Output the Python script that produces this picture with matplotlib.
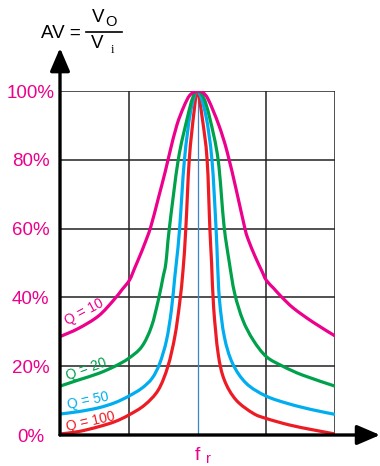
import matplotlib
matplotlib.use('Agg')
import matplotlib.pyplot as plt
from matplotlib.patches import ArrowStyle, PathPatch
from matplotlib.path import Path

plt.rcParams['font.family'] = ['Liberation Sans', 'DejaVu Sans']

# 곡선 데이터 (x: 공진 주파수 기준 격자 단위, y: %)
q10_x = [-2.0, -1.73, -1.44, -1.22, -1.10, -0.99, -0.91, -0.84, -0.77, -0.68, -0.57, -0.47, -0.40, -0.30, -0.20,
         -0.11, 0.0, 0.08, 0.16, 0.31, 0.43, 0.57, 0.69, 0.74, 0.84, 0.94, 1.0, 1.11, 1.23, 1.40, 1.68, 2.0]
q10_y = [28.6, 31, 34.6, 39.2, 42.2, 45, 48.7, 52, 55.5, 60.5, 68.8, 76.5, 82.4, 90.1, 95.4,
         98.8, 100, 99.5, 97.4, 90.1, 82.4, 70.7, 60, 56.7, 51.8, 47.5, 45, 42.6, 40, 36.8, 32.8, 28.8]

q20_x = [-2.0, -1.73, -1.44, -1.2, -1.0, -0.81, -0.67, -0.57, -0.50, -0.46, -0.41, -0.28, -0.15, -0.07, 0.0,
         0.09, 0.18, 0.30, 0.385, 0.46, 0.54, 0.66, 0.81, 1.0, 1.24, 1.53, 2.0]
q20_y = [14.2, 16, 17.9, 20, 22.3, 25.7, 31.5, 39.2, 46, 50, 60, 80, 92, 98, 100,
         98, 92, 80, 61, 50.5, 41.2, 33.4, 27.6, 22.8, 20, 17.4, 14.2]

q50_x = [-2.0, -1.73, -1.44, -1.2, -1.0, -0.81, -0.66, -0.55, -0.45, -0.38, -0.33, -0.30, -0.26, -0.19, -0.10, 0.0,
         0.12, 0.21, 0.27, 0.29, 0.32, 0.39, 0.51, 0.71, 1.0, 1.34, 1.68, 2.0]
q50_y = [6.1, 6.8, 7.9, 9.4, 11.3, 13.6, 16.5, 20.8, 27.6, 36.3, 46, 51.5, 60, 80, 94, 100,
         93, 80, 60, 50.5, 39.2, 28.6, 20.8, 15, 11.3, 9, 7.3, 6]

q100_x = [-2.0, -1.73, -1.44, -1.2, -1.0, -0.77, -0.57, -0.43, -0.33, -0.26, -0.21, -0.17, -0.12, -0.05, 0.0,
          0.07, 0.14, 0.18, 0.205, 0.235, 0.30, 0.39, 0.56, 0.81, 1.0, 1.34, 1.68, 2.0]
q100_y = [0.3, 1, 2.4, 3.9, 5.8, 8.7, 13.1, 20, 28.6, 38.3, 48, 60, 80, 94, 100,
          92, 80, 60, 50, 37, 23.7, 16, 10.2, 6.3, 4.8, 2.9, 1.5, 0.3]

y_ticks = [0, 20, 40, 60, 80, 100]
y_labels = ['0%', '20%', '40%', '60%', '80%', '100%']

pink = '#ec008c'
green = '#00a14b'
cyan = '#00aeef'
red = '#ed1c24'

W, H = 380, 466
fig = plt.figure(figsize=(W / 100, H / 100), dpi=100)
ax = fig.add_axes([60 / W, 1 - 435 / H, 275 / W, 344 / H])
ax.set_xlim(-2, 2)
ax.set_ylim(0, 100)
for s in ax.spines.values():
    s.set_visible(False)

# 격자
for yv in y_ticks[1:]:
    ax.axhline(yv, color='#222222', lw=1.1, zorder=1)
for xv in [-1, 1, 2]:
    ax.axvline(xv, color='#222222', lw=1.1, zorder=1)
ax.axvline(0, color='#3d85c6', lw=0.9, zorder=1)


# 읽은 점들을 부드러운 베지어 경로로 연결
def smooth_curve(xs, ys, color, z):
    pts = list(zip(xs, ys))
    verts = [pts[0]]
    codes = [Path.MOVETO]
    n = len(pts)
    for i in range(n - 1):
        p0 = pts[max(i - 1, 0)]
        p1 = pts[i]
        p2 = pts[i + 1]
        p3 = pts[min(i + 2, n - 1)]
        c1 = (p1[0] + (p2[0] - p0[0]) / 6, p1[1] + (p2[1] - p0[1]) / 6)
        c2 = (p2[0] - (p3[0] - p1[0]) / 6, p2[1] - (p3[1] - p1[1]) / 6)
        verts += [c1, c2, p2]
        codes += [Path.CURVE4] * 3
    patch = PathPatch(Path(verts, codes), fill=False, edgecolor=color, lw=2.3,
                      joinstyle='round', capstyle='butt', zorder=z)
    ax.add_patch(patch)


smooth_curve(q100_x, q100_y, red, 3)
smooth_curve(q50_x, q50_y, cyan, 4)
smooth_curve(q20_x, q20_y, green, 5)
smooth_curve(q10_x, q10_y, pink, 6)

# 축 화살표
head = ArrowStyle('-|>', head_length=0.7, head_width=0.3)
for tip in [(1.164, 0), (0, 1.125)]:
    ax.annotate('', xy=tip, xytext=(0, 0), xycoords='axes fraction',
                arrowprops=dict(arrowstyle=head, lw=2.4, color='black', mutation_scale=20,
                                shrinkA=0, shrinkB=0), annotation_clip=False, zorder=7)

# 눈금 라벨
ax.set_xticks([])
ax.set_yticks(y_ticks)
ax.set_yticklabels(y_labels, color=pink, fontsize=13.5)
ax.tick_params(axis='y', length=0, pad=21)
for lab in ax.get_yticklabels():
    lab.set_ha('center')


def ptext(px, py, s, **kw):
    fig.text(px / W, 1 - py / H, s, **kw)


# Q 라벨
ptext(84, 312, 'Q = 10', color=pink, fontsize=10, rotation=28, ha='center', va='center')
ptext(86, 369, 'Q = 20', color=green, fontsize=10, rotation=20, ha='center', va='center')
ptext(88, 401, 'Q = 50', color=cyan, fontsize=10, rotation=12, ha='center', va='center')
ptext(91, 422, 'Q = 100', color=red, fontsize=10, rotation=13, ha='center', va='center')

# f_r
ptext(197, 455, 'f', color=pink, fontsize=14, ha='center', va='center')
ptext(208, 459, 'r', color=pink, fontsize=10.5, ha='center', va='center')

# AV = Vo / Vi
ptext(41, 33, 'AV =', color='black', fontsize=13.5, ha='left', va='center')
ptext(92, 18, 'V', color='black', fontsize=13.5, ha='left', va='center')
ptext(105, 22, 'O', color='black', fontsize=10.5, ha='left', va='center')
ptext(91, 44, 'V', color='black', fontsize=13.5, ha='left', va='center')
ptext(112, 50, 'i', color='black', fontsize=9, ha='center', va='center', family='Liberation Serif')
fig.add_artist(plt.Line2D([86 / W, 122 / W], [1 - 32 / H, 1 - 32 / H], color='black', lw=1.2))

fig.savefig('out.png', dpi=100)
